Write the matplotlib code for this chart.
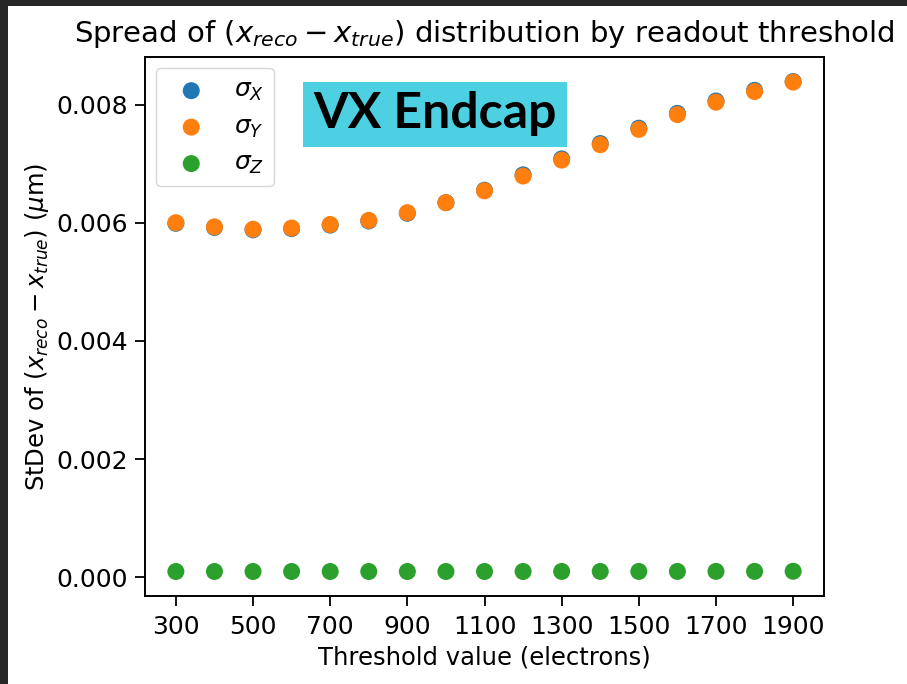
import numpy as np
import matplotlib
matplotlib.use("Agg")
import matplotlib.pyplot as plt
from matplotlib.patches import Rectangle

# Readout thresholds (electrons) and spread of the position residuals
thresholds = [300, 400, 500, 600, 700, 800, 900, 1000, 1100, 1200,
              1300, 1400, 1500, 1600, 1700, 1800, 1900]
sigma_x = [0.00599, 0.00592, 0.00588, 0.00590, 0.00596, 0.00603, 0.00616, 0.00634, 0.00655,
           0.00681, 0.00708, 0.00734, 0.00760, 0.00785, 0.00806, 0.00824, 0.00839]
sigma_y = [0.00600, 0.00593, 0.00589, 0.00591, 0.00597, 0.00604, 0.00617, 0.00634, 0.00654,
           0.00679, 0.00706, 0.00732, 0.00758, 0.00783, 0.00804, 0.00822, 0.00838]
sigma_z = [0.000098, 0.000098, 0.000098, 0.000098, 0.000098, 0.000098, 0.000098, 0.000098,
           0.000098, 0.000098, 0.000099, 0.000099, 0.000099, 0.000099, 0.000100, 0.000100, 0.000102]
xticks = [300, 500, 700, 900, 1100, 1300, 1500, 1700, 1900]

W, H = 907, 684
fig = plt.figure(figsize=(W / 100, H / 100), dpi=100, facecolor="#272727")
# white canvas inside the dark frame
fig.patches.append(Rectangle((8 / W, 0), 1 - 8 / W, 1 - 6 / H, transform=fig.transFigure,
                             facecolor="white", edgecolor="none", zorder=-10))

ax = fig.add_axes([145 / W, (H - 596) / H, (824 - 145) / W, (596 - 57) / H])

ms = 150
ax.scatter(thresholds, sigma_x, s=ms, color="#1f77b4", label=r"$\sigma_X$", edgecolors="none")
ax.scatter(thresholds, sigma_y, s=ms, color="#ff7f0e", label=r"$\sigma_Y$", edgecolors="none")
ax.scatter(thresholds, sigma_z, s=ms, color="#2ca02c", label=r"$\sigma_Z$", edgecolors="none")

ax.set_xticks(xticks)
ax.set_yticks([0.0, 0.002, 0.004, 0.006, 0.008])
ax.yaxis.set_major_formatter(matplotlib.ticker.FormatStrFormatter("%.3f"))
ax.tick_params(labelsize=18, length=7, width=1.3)
ax.tick_params(axis="x", pad=7)
ax.tick_params(axis="y", pad=5)
for sp in ax.spines.values():
    sp.set_linewidth(1.4)

ax.set_xlabel("Threshold value (electrons)", fontsize=17.5, labelpad=4)
ax.set_ylabel(r"StDev of $(x_{reco} - x_{true})$ ($\mu$m)", fontsize=17.5, labelpad=4)
ax.set_title(r"Spread of $(x_{reco} - x_{true})$ distribution by readout threshold",
             fontsize=21, pad=11)

ax.legend(loc="upper left", fontsize=18, borderpad=0.4, labelspacing=0.45,
          handletextpad=0.7, borderaxespad=0.45)

fig.text(435 / W, 1 - 114 / H, "VX Endcap", fontsize=36, fontweight="bold",
         family="Lato", ha="center", va="center", color="black",
         bbox=dict(boxstyle="square,pad=0.2", facecolor="#4dd0e1", edgecolor="none"))

fig.savefig("out.png", dpi=100, facecolor=fig.get_facecolor())
